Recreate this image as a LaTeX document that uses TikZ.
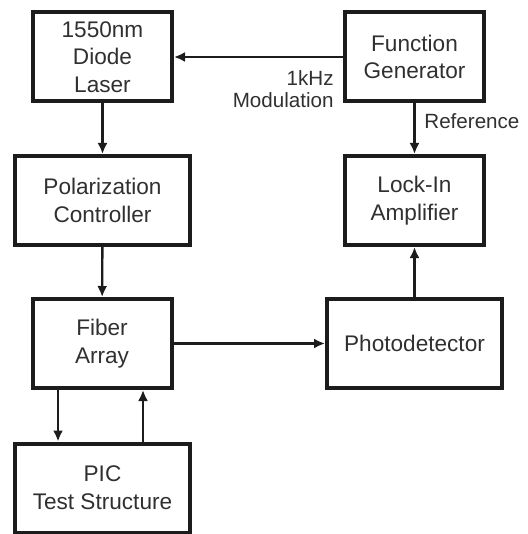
\documentclass[tikz,border=0pt]{standalone}
\usepackage{fontspec}
\setmainfont{Liberation Sans}
\usepackage{tikz}
\usetikzlibrary{arrows.meta,positioning,calc}
\definecolor{bxLine}{RGB}{28,28,28}
\definecolor{bxText}{RGB}{48,48,48}

\begin{document}
\begin{tikzpicture}[
  x=0.5pt, y=-0.5pt,
  font=\fontsize{11.3}{13.8}\selectfont,
  blk/.style={draw=bxLine, line width=2pt, text=bxText, minimum width=69.5pt, minimum height=44.5pt, align=center, inner sep=1pt},
  wideblk/.style={blk, minimum width=87.5pt},
  conn/.style={draw=bxLine, line width=1.2pt, -{Latex[length=5.5pt,width=5pt]}},
  lbl/.style={font=\fontsize{10.3}{11}\selectfont, text=bxText, inner sep=0pt}
]
\useasboundingbox (0,0) rectangle (527,534);
\node[blk]     (laser) at (102.5,57)    {1550nm\\Diode\\Laser};
\node[blk]     (fgen)  at (414.5,57)    {Function\\Generator};
\node[wideblk] (pol)   at (102.5,200.5) {Polarization\\Controller};
\node[blk]     (lock)  at (414.5,200.5) {Lock-In\\Amplifier};
\node[blk]     (fiber) at (102,343.5)   {Fiber\\Array};
\node[wideblk] (pd)    at (414.5,343.5) {Photodetector};
\node[wideblk] (pic)   at (102.5,488)   {PIC\\Test Structure};

\draw[conn] (fgen)  -- (laser);
\draw[conn] (laser) -- (pol);
\draw[conn] (pol)   -- (fiber);
\draw[conn] (fgen)  -- (lock);
\draw[conn] (pd)    -- (lock);
\draw[conn] (fiber) -- (pd);
\draw[conn] ($(fiber.south)+(-44,0)$) -- ($(pic.north)+(-44.5,0)$);
\draw[conn] ($(pic.north)+(40.5,0)$) -- ($(fiber.south)+(41,0)$);

\node[lbl, anchor=north east, align=right] (modlbl) at (334,70) {1kHz\\Modulation};
\node[lbl, anchor=north west] (reflbl) at (424,113) {Reference};
\end{tikzpicture}
\end{document}
